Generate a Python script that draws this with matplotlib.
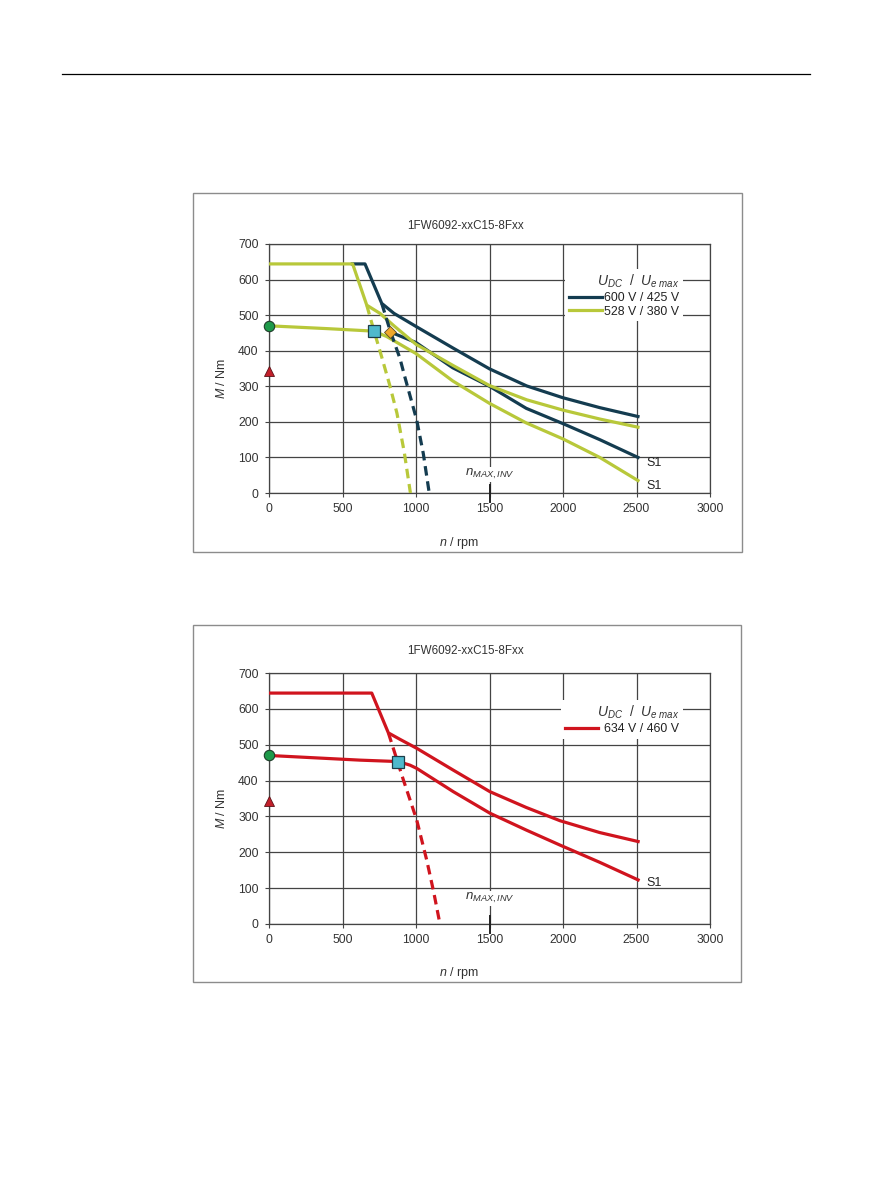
import matplotlib
matplotlib.use('Agg')
import matplotlib.pyplot as plt
from matplotlib.patches import Rectangle
from matplotlib.lines import Line2D

plt.rcParams['font.family'] = ['Liberation Sans', 'DejaVu Sans']
plt.rcParams['mathtext.fontset'] = 'custom'
plt.rcParams['mathtext.it'] = 'Liberation Sans:italic'
plt.rcParams['mathtext.rm'] = 'Liberation Sans'
plt.rcParams['mathtext.bf'] = 'Liberation Sans:bold'

# ---------------- data ----------------
title = "1FW6092-xxC15-8Fxx"
x_ticks = [0, 500, 1000, 1500, 2000, 2500, 3000]
y_ticks = [0, 100, 200, 300, 400, 500, 600, 700]

# top chart: 600 V / 425 V (dark)
dark_max_n = [567, 653, 767, 850, 1005, 1254, 1500, 1753, 1998, 2250, 2510]
dark_max_m = [644, 644, 533, 505, 467, 407, 349, 301, 268, 240, 215]
dark_s1_n = [0, 400, 714, 823, 900, 1000, 1250, 1500, 1750, 2000, 2250, 2510]
dark_s1_m = [470, 462, 455, 453, 440, 423, 352, 300, 238, 195, 150, 100]
dark_dash_n = [767, 823, 891, 925, 1005, 1050, 1090]
dark_dash_m = [533, 458, 378, 325, 205, 110, 0]

# top chart: 528 V / 380 V (green)
green_max_n = [0, 569, 665, 755, 850, 1000, 1254, 1500, 1753, 2000, 2250, 2510]
green_max_m = [644, 644, 528, 505, 470, 418, 358, 302, 262, 233, 208, 185]
green_s1_n = [0, 400, 714, 800, 1000, 1250, 1500, 1750, 2000, 2250, 2510]
green_s1_m = [470, 462, 455, 440, 392, 315, 252, 197, 152, 100, 35]
green_dash_n = [665, 710, 767, 820, 870, 920, 962]
green_dash_m = [528, 462, 382, 305, 225, 115, 0]

# bottom chart: 634 V / 460 V (red)
red_max_n = [0, 699, 812, 891, 1005, 1254, 1503, 1750, 1980, 2250, 2511]
red_max_m = [644, 644, 533, 515, 490, 429, 369, 325, 288, 255, 230]
red_s1_n = [0, 619, 880, 959, 1005, 1254, 1503, 1750, 1980, 2250, 2511]
red_s1_m = [470, 457, 453, 443, 434, 369, 309, 262, 220, 172, 123]
red_dash_n = [812, 914, 1005, 1073, 1120, 1163]
red_dash_m = [533, 402, 290, 178, 90, 0]

# special points
m0_circle = 470
m0_triangle = 343
top_square = (714, 455)
top_diamond = (823, 453)
bot_square = (880, 453)
n_max_inv = 1500

labels_top = ["600 V / 425 V", "528 V / 380 V"]
labels_bot = ["634 V / 460 V"]

DARK = '#143c50'
GREEN = '#b8c83a'
RED = '#d0141e'
GRID = '#444444'

W, H = 893, 1191
fig = plt.figure(figsize=(W / 100, H / 100), dpi=100)
fig.patch.set_facecolor('white')

# page header line
fig.add_artist(Line2D([62 / W, 810 / W], [1 - 74 / H] * 2, transform=fig.transFigure,
                      color='black', lw=0.9))
# chart frames
fig.add_artist(Rectangle((193 / W, 1 - 552 / H), 549 / W, 359 / H, transform=fig.transFigure,
                         fill=False, ec='#8c8c8c', lw=1.0))
fig.add_artist(Rectangle((193 / W, 1 - 982 / H), 548 / W, 357 / H, transform=fig.transFigure,
                         fill=False, ec='#8c8c8c', lw=1.0))


def setup(ax, title_y, xlabel_y):
    ax.set_xlim(0, 3000)
    ax.set_ylim(0, 700)
    ax.set_xticks(x_ticks)
    ax.set_yticks(y_ticks)
    ax.grid(True, color=GRID, lw=0.9, zorder=0)
    ax.set_axisbelow(True)
    for s in ax.spines.values():
        s.set_color(GRID)
        s.set_linewidth(0.9)
    ax.tick_params(direction='out', length=3, width=0.8, color=GRID, labelsize=8.7,
                   labelcolor='#333333', pad=4.5)
    ax.text(0.445, title_y, title, transform=ax.transAxes, ha='center', va='center',
            fontsize=8.4, color='#333333')
    ax.set_xlabel(r'$n$ / rpm', fontsize=9, color='#333333')
    ax.xaxis.set_label_coords(0.431, xlabel_y)
    ax.set_ylabel(r'$M$ / Nm', fontsize=9, color='#333333')
    ax.yaxis.set_label_coords(-0.092, 0.462)


def nmax(ax, y_text):
    ax.text(n_max_inv, y_text, r'$n_{MAX,INV}$', ha='center', va='bottom', fontsize=9.5,
            color='#333333', bbox=dict(fc='white', ec='none', pad=0.5), zorder=3)
    ax.plot([n_max_inv, n_max_inv], [-24, 22], color='#222222', lw=1.4, clip_on=False, zorder=4)


def points(ax, square):
    ax.plot(0, m0_circle, 'o', ms=7.5, mfc='#1e9a4a', mec='#1f3d2a', mew=0.8, clip_on=False, zorder=6)
    ax.plot(0, m0_triangle, '^', ms=7.5, mfc='#c21f2a', mec='#5a1015', mew=0.6, clip_on=False, zorder=6)
    ax.plot(square[0], square[1], 's', ms=8.5, mfc='#4fb9cc', mec='#1e3d48', mew=0.9, zorder=6)


LW = 2.3
DASH = (3.0, 1.8)

# ---------------- top chart ----------------
ax1 = fig.add_axes([269 / W, 1 - 493 / H, 441 / W, 249 / H])
setup(ax1, 1.072, -0.168)
ax1.plot(green_s1_n, green_s1_m, color=GREEN, lw=LW, zorder=3)
ax1.plot(dark_s1_n[3:], dark_s1_m[3:], color=DARK, lw=LW, zorder=3)
ax1.plot(dark_max_n, dark_max_m, color=DARK, lw=LW, zorder=3, label=labels_top[0])
ax1.plot(green_max_n, green_max_m, color=GREEN, lw=LW, zorder=3, label=labels_top[1])
ax1.plot(green_dash_n, green_dash_m, color=GREEN, lw=LW, ls=(0, DASH), zorder=3)
ax1.plot(dark_dash_n, dark_dash_m, color=DARK, lw=LW, ls=(0, DASH), zorder=3)
points(ax1, top_square)
ax1.plot(top_diamond[0], top_diamond[1], 'D', ms=6, mfc='#f0a82c', mec='#5a4a20', mew=0.6, zorder=6)
ax1.text(2570, 83, 'S1', fontsize=9, color='#222222', va='center', ha='left')
ax1.text(2570, 20, 'S1', fontsize=9, color='#222222', va='center', ha='left')
nmax(ax1, 33)
leg1 = ax1.legend(loc='upper right', bbox_to_anchor=(2816 / 3000, 630 / 700), frameon=True,
                  facecolor='white', edgecolor='none', framealpha=1, fancybox=False,
                  fontsize=8.9, title=r'$U_{DC}$  /  $U_{e\ max}$', title_fontsize=10,
                  handlelength=2.7, handletextpad=0.15, borderpad=0.3, labelspacing=0.15,
                  alignment='right', borderaxespad=0)
for t in leg1.get_texts():
    t.set_color('#222222')
leg1.get_title().set_color('#333333')

# ---------------- bottom chart ----------------
ax2 = fig.add_axes([269 / W, 1 - 924 / H, 441 / W, 251 / H])
setup(ax2, 1.088, -0.163)
ax2.plot(red_max_n, red_max_m, color=RED, lw=LW, zorder=3, label=labels_bot[0])
ax2.plot(red_s1_n, red_s1_m, color=RED, lw=LW, zorder=3)
ax2.plot(red_dash_n, red_dash_m, color=RED, lw=LW, ls=(0, DASH), zorder=3)
points(ax2, bot_square)
ax2.text(2565, 115, 'S1', fontsize=9, color='#222222', va='center', ha='left')
nmax(ax2, 52)
leg2 = ax2.legend(loc='upper right', bbox_to_anchor=(2816 / 3000, 625 / 700), frameon=True,
                  facecolor='white', edgecolor='none', framealpha=1, fancybox=False,
                  fontsize=8.9, title=r'$U_{DC}$  /  $U_{e\ max}$', title_fontsize=10,
                  handlelength=2.7, handletextpad=0.5, borderpad=0.3, labelspacing=0.15,
                  alignment='right', borderaxespad=0)
for t in leg2.get_texts():
    t.set_color('#222222')
leg2.get_title().set_color('#333333')

fig.savefig('out.png', dpi=100, facecolor='white')
